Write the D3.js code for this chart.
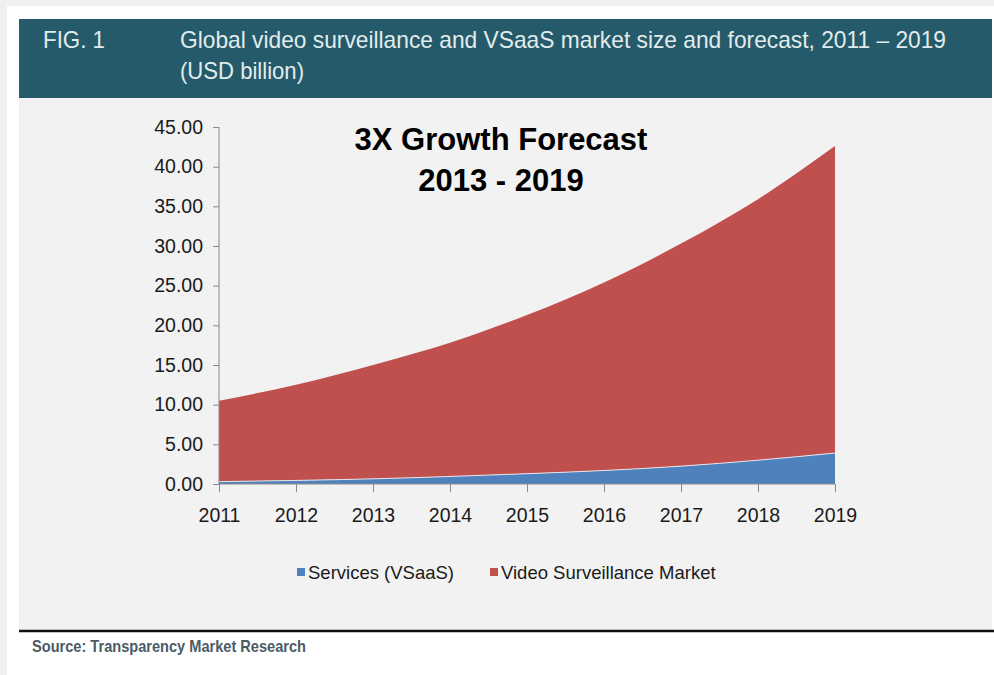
<!DOCTYPE html>
<html>
<head>
<meta charset="utf-8">
<script src="https://cdn.jsdelivr.net/npm/d3@7"></script>
<style>
  body { margin: 0; background: #fff; }
  svg { display: block; font-family: "Liberation Sans", Arial, sans-serif; }
</style>
</head>
<body>
<div id="chart"></div>
<script>
// values (USD billion)
var years = [2011, 2012, 2013, 2014, 2015, 2016, 2017, 2018, 2019]
var services = [0.30, 0.45, 0.65, 0.95, 1.30, 1.70, 2.25, 3.00, 3.90]
var videoSurveillance = [10.20, 12.05, 14.35, 16.85, 20.00, 23.70, 28.05, 32.90, 38.70]
var yTicks = [0, 5, 10, 15, 20, 25, 30, 35, 40, 45]
var seriesNames = ["Services (VSaaS)", "Video Surveillance Market"]
var seriesColors = ["#4f81bd", "#c0504d"]

function drawChart() {
    var width = 994
    var height = 675

    var svg = d3.select("#chart")
        .append("svg")
        .attr("width", width)
        .attr("height", height)

    // page frame
    svg.append("rect").attr("width", width).attr("height", height).attr("fill", "#efefef")
    svg.append("rect").attr("x", 7).attr("y", 6).attr("width", width - 7).attr("height", height - 6).attr("fill", "#fff")

    // header bar
    svg.append("rect")
        .attr("x", 19).attr("y", 19)
        .attr("width", 973).attr("height", 79)
        .attr("fill", "#245a69")

    var header = svg.append("g").attr("fill", "#e2eced").attr("font-size", 24)
    header.append("text").attr("x", 43).attr("y", 48)
        .attr("textLength", 62).attr("lengthAdjust", "spacingAndGlyphs")
        .text("FIG. 1")
    header.append("text").attr("x", 180).attr("y", 48)
        .attr("textLength", 766).attr("lengthAdjust", "spacingAndGlyphs")
        .text("Global video surveillance and VSaaS market size and forecast, 2011 \u2013 2019")
    header.append("text").attr("x", 180).attr("y", 79)
        .attr("textLength", 124).attr("lengthAdjust", "spacingAndGlyphs")
        .text("(USD billion)")

    // chart panel
    svg.append("rect")
        .attr("x", 19).attr("y", 98)
        .attr("width", 973).attr("height", 532)
        .attr("fill", "#f2f2f2")

    svg.append("line")
        .attr("x1", 19).attr("x2", width)
        .attr("y1", 631).attr("y2", 631)
        .attr("stroke", "#111").attr("stroke-width", 2.5)

    svg.append("text")
        .attr("x", 32).attr("y", 652)
        .attr("font-size", 17).attr("font-weight", "bold")
        .attr("fill", "#4b5b66")
        .attr("textLength", 274).attr("lengthAdjust", "spacingAndGlyphs")
        .text("Source:  Transparency Market Research")

    // scales
    var x = d3.scaleLinear().domain([2011, 2019]).range([219, 835])
    var y = d3.scaleLinear().domain([0, 45]).range([484, 127])

    var table = years.map((yr, i) => ({ year: yr, services: services[i], video: videoSurveillance[i] }))
    var stacked = d3.stack().keys(["services", "video"])(table)

    var area = d3.area()
        .curve(d3.curveMonotoneX)
        .x(d => x(d.data.year))
        .y0(d => y(d[0]))
        .y1(d => y(d[1]))

    svg.append("g")
        .selectAll("path")
        .data(stacked.slice().reverse())
        .join("path")
        .attr("fill", d => d.key == "services" ? seriesColors[0] : seriesColors[1])
        .attr("d", area)

    // thin light edge between the two areas
    svg.append("path")
        .datum(stacked[0])
        .attr("fill", "none")
        .attr("stroke", "#e9e4ea")
        .attr("stroke-width", 1)
        .attr("d", d3.line().curve(d3.curveMonotoneX).x(d => x(d.data.year)).y(d => y(d[1])))

    // axes
    var yAxis = svg.append("g")
        .attr("transform", "translate(219,0)")
        .call(d3.axisLeft(y).tickValues(yTicks).tickFormat(d3.format(".2f")).tickSize(6).tickPadding(10))
    yAxis.select(".domain").attr("stroke", "#8a8a8a").attr("d", "M0," + y(45) + "V" + y(0))
    yAxis.selectAll(".tick line").attr("stroke", "#8a8a8a")
    yAxis.selectAll("text").attr("font-size", 19.5).attr("fill", "#1a1a1a").attr("font-family", "'Liberation Sans', Arial, sans-serif")

    var xAxis = svg.append("g")
        .attr("transform", "translate(0,484)")
        .call(d3.axisBottom(x).tickValues(years).tickFormat(d3.format("d")).tickSize(8).tickPadding(16))
    xAxis.select(".domain").attr("stroke", "#8a8a8a").attr("d", "M219,0H835")
    xAxis.selectAll(".tick line").attr("stroke", "#8a8a8a")
    xAxis.selectAll("text").attr("font-size", 19.5).attr("fill", "#1a1a1a").attr("font-family", "'Liberation Sans', Arial, sans-serif")

    // annotation
    var note = svg.append("g").attr("font-weight", "bold").attr("font-size", 31).attr("text-anchor", "middle").attr("fill", "#000")
    note.append("text").attr("x", 501).attr("y", 150).text("3X Growth Forecast")
    note.append("text").attr("x", 501).attr("y", 191).text("2013 - 2019")

    // legend
    var legendX = [297, 490]
    var legend = svg.append("g")
        .selectAll("g")
        .data(seriesNames)
        .join("g")
        .attr("transform", (d, i) => "translate(" + legendX[i] + ",572)")
    legend.append("rect")
        .attr("x", 0).attr("y", -4)
        .attr("width", 8).attr("height", 8)
        .attr("fill", (d, i) => seriesColors[i])
    legend.append("text")
        .attr("x", 11).attr("y", 7)
        .attr("font-size", 18.5)
        .attr("fill", "#1a1a1a")
        .text(d => d)
}
drawChart()
</script>
</body>
</html>
